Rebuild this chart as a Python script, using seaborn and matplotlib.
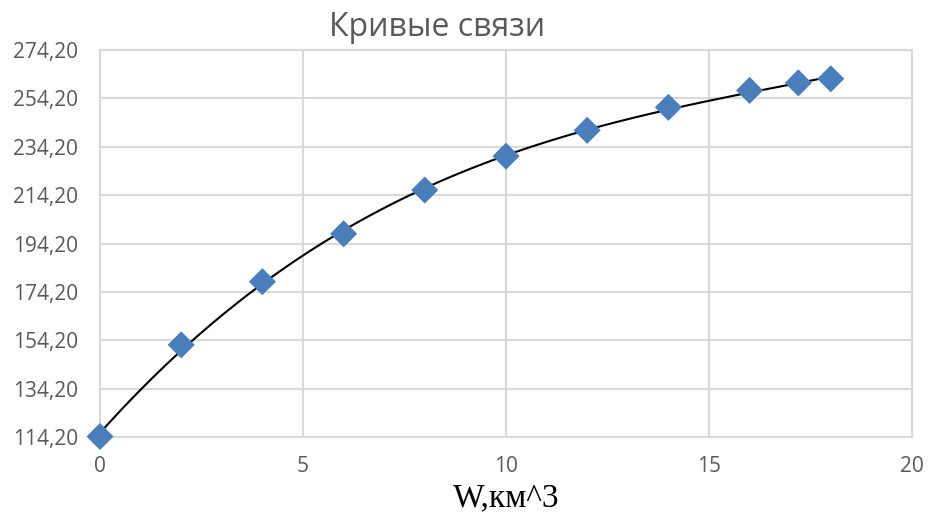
import matplotlib
matplotlib.use("Agg")
import matplotlib.pyplot as plt
import seaborn as sns
import numpy as np
import pandas as pd

W = [0, 2, 4, 6, 8, 10, 12, 14, 16, 17.2, 18]
H = [114.4, 152.3, 178.4, 198.2, 216.3, 230.3, 241.0, 250.5, 257.5, 260.6, 262.3]
y_ticks = [114.2, 134.2, 154.2, 174.2, 194.2, 214.2, 234.2, 254.2, 274.2]
x_ticks = [0, 5, 10, 15, 20]
title = "Кривые связи"
xlabel = "W,км^3"

df = pd.DataFrame({"W": W, "H": H})

sns.set_theme(style="white")
plt.rcParams["font.family"] = ["Open Sans", "DejaVu Sans"]

fig = plt.figure(figsize=(9.31, 5.19), dpi=100)
ax = fig.add_axes([100/931, (519-437)/519, (912-100)/931, (437-50)/519])

grid_c = "#d9d9d9"
sns.regplot(data=df, x="W", y="H", order=3, ci=None, scatter=False, ax=ax,
            line_kws=dict(color="black", lw=1.5, zorder=3))
sns.scatterplot(data=df, x="W", y="H", marker="D", s=190, color="#4a7ebb",
                edgecolor="none", ax=ax, zorder=4, clip_on=False)

ax.set_xlim(0, 20)
ax.set_ylim(114.2, 274.2)
ax.set_xticks(x_ticks)
ax.set_yticks(y_ticks)
ax.set_yticklabels([f"{v:.2f}".replace(".", ",") for v in y_ticks])
ax.grid(True, color=grid_c, lw=1.5)
ax.set_axisbelow(True)
for s in ax.spines.values():
    s.set_color(grid_c)
    s.set_linewidth(1.5)
ax.tick_params(axis="both", length=0, labelsize=15, colors="#595959")
ax.tick_params(axis="y", pad=16)
ax.tick_params(axis="x", pad=14)
ax.set_ylabel("")
ax.set_xlabel(xlabel, family=["Liberation Serif"], fontsize=24, color="black", labelpad=4)

fig.text(437/931, 1 - 27/519, title, ha="center", va="center", fontsize=23, color="#595959")

fig.savefig("out.png", dpi=100)
